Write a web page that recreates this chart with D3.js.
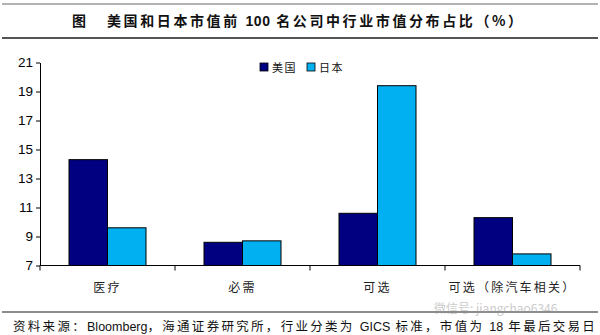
<!DOCTYPE html>
<html><head><meta charset="utf-8">
<script src="https://cdn.jsdelivr.net/npm/d3@7"></script>
<style>body{margin:0;background:#fff}svg{display:block}</style>
</head><body>
<script>
const categories = ["医疗", "必需", "可选", "可选（除汽车相关）"];
const seriesNames = ["美国", "日本"];
const usValues = [14.3, 8.6, 10.6, 10.3];
const jpValues = [9.6, 8.7, 19.4, 7.8];
const yTicks = [7, 9, 11, 13, 15, 17, 19, 21];
const colors = ["#000080", "#00b0f0"];

const W = 600, H = 335;
const svg = d3.select("body").append("svg").attr("width", W).attr("height", H);
const cjk = "'Noto Sans CJK SC', sans-serif";
const lat = "'Liberation Sans', Arial, sans-serif";

// header lines
svg.append("line").attr("x1", 2).attr("x2", 598).attr("y1", 4).attr("y2", 4).attr("stroke", "#666").attr("stroke-width", 1);
svg.append("line").attr("x1", 2).attr("x2", 598).attr("y1", 38).attr("y2", 38).attr("stroke", "#555").attr("stroke-width", 2);
const title = svg.append("text").attr("y", 26).attr("font-weight", "bold").attr("font-size", 14).attr("fill", "#111");
title.append("tspan").attr("x", 72).attr("font-family", cjk).text("图");
title.append("tspan").attr("x", 107).attr("font-family", cjk).attr("letter-spacing", 2.6).text("美国和日本市值前 ");
title.append("tspan").attr("font-family", lat).attr("letter-spacing", 0.5).text("100");
title.append("tspan").attr("font-family", cjk).attr("letter-spacing", 2.6).text(" 名公司中行业市值分布占比（%）");

const x0 = d3.scaleBand().domain(categories).range([40, 580]).paddingInner(0).paddingOuter(0);
const x1 = d3.scaleBand().domain(seriesNames).range([0, 77]);
const y = d3.scaleLinear().domain([7, 21]).range([265.5, 62.5]);

// bars
const groups = svg.append("g").selectAll("g").data(categories).join("g")
  .attr("transform", d => `translate(${x0(d) + (x0.bandwidth() - 77) / 2},0)`);
groups.selectAll("rect").data((d, i) => [usValues[i], jpValues[i]].map((v, j) => ({ v, s: seriesNames[j], j })))
  .join("rect")
  .attr("x", d => x1(d.s)).attr("width", x1.bandwidth())
  .attr("y", d => y(d.v)).attr("height", d => y(7) - y(d.v))
  .attr("fill", d => colors[d.j]).attr("stroke", "#000").attr("stroke-width", 1);

// y axis
const yAxis = svg.append("g").attr("transform", "translate(40,0)")
  .call(d3.axisLeft(y).tickValues(yTicks).tickSize(4).tickSizeOuter(0).tickFormat(d3.format("d")));
yAxis.select(".domain").attr("stroke", "#000");
yAxis.selectAll(".tick line").attr("stroke", "#000");
yAxis.selectAll("text").attr("font-family", lat).attr("font-size", 13.5).attr("fill", "#000").attr("x", -7);

// x axis
const xAxis = svg.append("g").attr("transform", `translate(0,${y(7)})`);
xAxis.append("line").attr("x1", 40).attr("x2", 580).attr("stroke", "#000");
const bounds = categories.map(c => x0(c)).concat([580]);
xAxis.selectAll(".xt").data(bounds).join("line").attr("class", "xt")
  .attr("x1", d => d).attr("x2", d => d).attr("y1", 0).attr("y2", 5).attr("stroke", "#000");
xAxis.selectAll(".xl").data(categories).join("text").attr("class", "xl")
  .attr("x", d => x0(d) + x0.bandwidth() / 2).attr("y", 26).attr("text-anchor", "middle")
  .attr("font-family", cjk).attr("font-size", 12).attr("letter-spacing", 2.2).attr("fill", "#222").text(d => d);

// legend
const leg = svg.append("g").selectAll("g").data(seriesNames).join("g")
  .attr("transform", (d, i) => `translate(${260 + i * 47},63)`);
leg.append("rect").attr("width", 8).attr("height", 8).attr("fill", (d, i) => colors[i]).attr("stroke", "#000").attr("stroke-width", 0.8);
leg.append("text").attr("x", 12).attr("y", 8.5).attr("font-family", cjk).attr("font-size", 11).attr("letter-spacing", 1.5).attr("fill", "#111").text(d => d);

// footer
svg.append("line").attr("x1", 2).attr("x2", 598).attr("y1", 312).attr("y2", 312).attr("stroke", "#666").attr("stroke-width", 1.5);
const src = svg.append("text").attr("x", 13).attr("y", 331).attr("font-size", 12.5).attr("fill", "#111");
src.append("tspan").attr("font-family", cjk).attr("letter-spacing", 2.3).text("资料来源：");
src.append("tspan").attr("font-family", lat).text("Bloomberg");
src.append("tspan").attr("font-family", cjk).attr("letter-spacing", 2.3).text("，海通证券研究所，行业分类为 ");
src.append("tspan").attr("font-family", lat).text("GICS");
src.append("tspan").attr("font-family", cjk).attr("letter-spacing", 2.3).text(" 标准，市值为 ");
src.append("tspan").attr("font-family", lat).text("18");
src.append("tspan").attr("font-family", cjk).attr("letter-spacing", 2.3).text(" 年最后交易日");
svg.append("text").attr("x", 434).attr("y", 313).attr("font-family", cjk).attr("font-size", 12)
  .attr("fill", "#999").attr("opacity", 0.5).text("微信号: jiangchao6346");
</script>
</body></html>
